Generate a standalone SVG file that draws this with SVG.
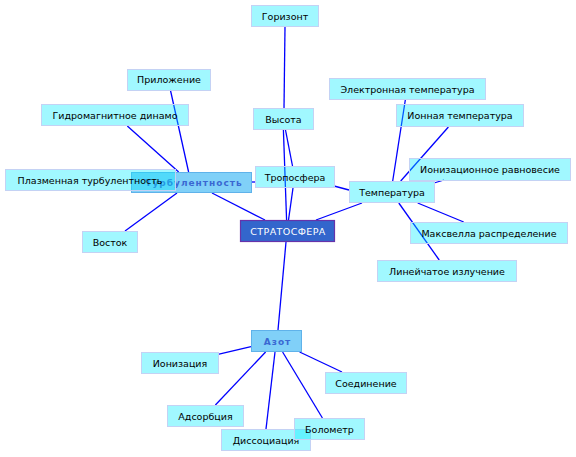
<svg xmlns="http://www.w3.org/2000/svg" width="576" height="457" viewBox="0 0 576 457">
<style>
.e{stroke:#0000ff;stroke-width:1.3;fill:none}
.b{fill:rgb(0,236,255);fill-opacity:0.37;stroke:#c4d2f4;stroke-width:1}
.t{font-family:"DejaVu Sans","Liberation Sans",sans-serif;font-size:9.5px;fill:#000;text-anchor:middle}
.gb{fill:#80d0f8;stroke:#5fb2ea;stroke-width:1}
.gt{font-family:"DejaVu Sans","Liberation Sans",sans-serif;font-size:9px;font-weight:bold;fill:#3a68d2;text-anchor:middle;letter-spacing:1px}
.rb{fill:#3366cc;stroke:#6633aa;stroke-width:1.2}
.rt{font-family:"DejaVu Sans","Liberation Sans",sans-serif;font-size:9.5px;fill:#fff;text-anchor:middle;letter-spacing:0.4px}
</style>
<rect width="576" height="457" fill="#fff"/>
<g id="connectors">
<line class="e" x1="285" y1="27" x2="284" y2="108"/>
<line class="e" x1="283.4" y1="130" x2="286.6" y2="220"/>
<line class="e" x1="285.5" y1="130" x2="292.5" y2="166"/>
<line class="e" x1="293" y1="188" x2="288.5" y2="220"/>
<line class="e" x1="251" y1="182" x2="255" y2="182"/>
<line class="e" x1="334" y1="186" x2="349" y2="190"/>
<line class="e" x1="212" y1="193" x2="265" y2="220"/>
<line class="e" x1="362" y1="203" x2="316" y2="220"/>
<line class="e" x1="286" y1="242" x2="278" y2="330"/>
<line class="e" x1="170.4" y1="90" x2="188.6" y2="172"/>
<line class="e" x1="127.3" y1="126" x2="178.7" y2="172"/>
<line class="e" x1="125" y1="231" x2="177" y2="193"/>
<line class="e" x1="405.3" y1="100" x2="392.7" y2="181"/>
<line class="e" x1="448.4" y1="127" x2="400.7" y2="181"/>
<line class="e" x1="444" y1="180" x2="434" y2="183"/>
<line class="e" x1="417.7" y1="203" x2="463.7" y2="222"/>
<line class="e" x1="398.8" y1="203" x2="439.2" y2="260"/>
<line class="e" x1="251" y1="346.6" x2="218" y2="354.3"/>
<line class="e" x1="299.6" y1="352" x2="342" y2="372"/>
<line class="e" x1="265.6" y1="352" x2="215.4" y2="405"/>
<line class="e" x1="275" y1="352" x2="266" y2="429"/>
<line class="e" x1="282.6" y1="352" x2="322.4" y2="418"/>
</g>
<g id="n-gorizont"><rect class="b" x="251.5" y="5.5" width="67" height="21"/><text class="t" x="285" y="19.5">Горизонт</text></g>
<g id="n-vysota"><rect class="b" x="253.5" y="108.5" width="60" height="21"/><text class="t" x="283.5" y="122.5">Высота</text></g>
<g id="n-prilozhenie"><rect class="b" x="127.5" y="69.5" width="83" height="21"/><text class="t" x="169" y="83">Приложение</text></g>
<g id="n-gidro"><rect class="b" x="41.5" y="104.5" width="147" height="21"/><text class="t" x="115" y="118.5">Гидромагнитное динамо</text></g>
<g id="n-turb"><rect class="gb" x="131.5" y="172.5" width="120" height="20"/><text class="gt" x="194" y="186">Турбулентность</text></g>
<g id="n-plasma"><rect class="b" x="5.5" y="169.5" width="170" height="21"/><text class="t" x="90" y="183.5">Плазменная турбулентность</text></g>
<g id="n-vostok"><rect class="b" x="82.5" y="231.5" width="55" height="21"/><text class="t" x="110" y="245.5">Восток</text></g>
<g id="n-tropo"><rect class="b" x="255.5" y="166.5" width="79" height="21"/><text class="t" x="295" y="180.5">Тропосфера</text></g>
<g id="n-temp"><rect class="b" x="349.5" y="181.5" width="85" height="21"/><text class="t" x="392" y="195.5">Температура</text></g>
<g id="n-strat"><rect class="rb" x="240.5" y="220.5" width="94" height="21"/><text class="rt" x="288" y="234.5">СТРАТОСФЕРА</text></g>
<g id="n-elektr"><rect class="b" x="329.5" y="78.5" width="156" height="21"/><text class="t" x="407.5" y="92.5">Электронная температура</text></g>
<g id="n-ion"><rect class="b" x="396.5" y="104.5" width="127" height="22"/><text class="t" x="460" y="118.5">Ионная температура</text></g>
<g id="n-ionrav"><rect class="b" x="409.5" y="158.5" width="161" height="22"/><text class="t" x="490" y="172.5">Ионизационное равновесие</text></g>
<g id="n-maks"><rect class="b" x="410.5" y="222.5" width="157" height="21"/><text class="t" x="489" y="236.5">Максвелла распределение</text></g>
<g id="n-lin"><rect class="b" x="377.5" y="260.5" width="139" height="21"/><text class="t" x="447" y="274.5">Линейчатое излучение</text></g>
<g id="n-azot"><rect class="gb" x="251.5" y="330.5" width="50" height="21"/><text class="gt" x="277.5" y="344.5">Азот</text></g>
<g id="n-ioniz"><rect class="b" x="141.5" y="352.5" width="77" height="21"/><text class="t" x="180" y="366.5">Ионизация</text></g>
<g id="n-soed"><rect class="b" x="325.5" y="372.5" width="81" height="21"/><text class="t" x="366" y="386.5">Соединение</text></g>
<g id="n-adsorb"><rect class="b" x="167.5" y="405.5" width="76" height="21"/><text class="t" x="205.5" y="419.5">Адсорбция</text></g>
<g id="n-dissoc"><rect class="b" x="221.5" y="429.5" width="89" height="21"/><text class="t" x="266" y="443.5">Диссоциация</text></g>
<g id="n-bolom"><rect class="b" x="294.5" y="418.5" width="70" height="21"/><text class="t" x="329.5" y="432.5">Болометр</text></g>
</svg>
